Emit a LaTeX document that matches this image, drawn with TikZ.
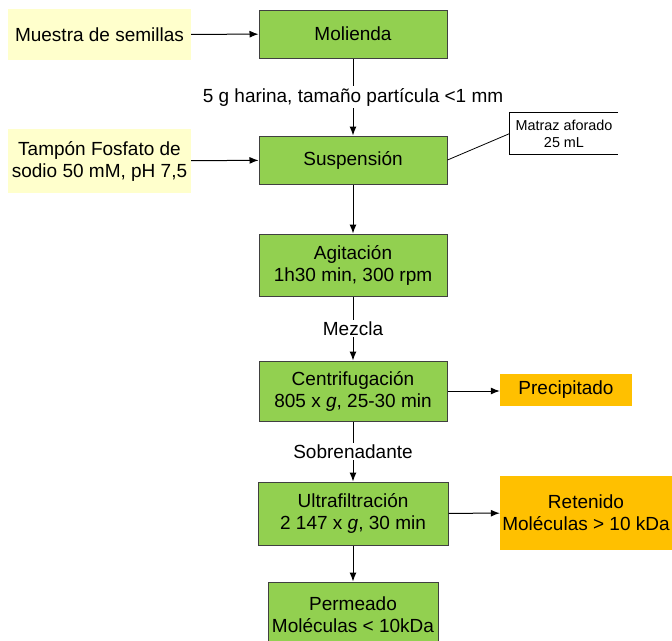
\documentclass[tikz,border=0pt]{standalone}
\usepackage{fontspec}
\setmainfont{Liberation Sans}
\usepackage{tikz}
\usetikzlibrary{positioning, calc, shapes, arrows.meta}

\definecolor{procverde}{HTML}{92D050}
\definecolor{entamarillo}{HTML}{FFFFCC}
\definecolor{salnaranja}{HTML}{FFC000}

\begin{document}
\begin{tikzpicture}[x=1pt, y=-1pt,
		font=\fontsize{19}{22}\selectfont,
		caja/.style = {inner sep=0pt, align=center},
		proceso/.style = {caja, fill=procverde, draw=black!75, line width=1pt},
		entrada/.style = {caja, fill=entamarillo},
		salida/.style = {caja, fill=salnaranja},
		flecha/.style = {-{Latex[length=9pt, width=7pt]}, line width=1pt},
		etiqueta/.style = {fill=white, inner sep=2pt}]
	\useasboundingbox (0,0) rectangle (672,640);
	% entradas
	\node[entrada, minimum width=183, minimum height=51] (muestra) at (99.5,34.5) {Muestra de semillas};
	\node[entrada, minimum width=183, minimum height=64] (tampon) at (99.5,161) {Tamp\'on Fosfato de\\sodio 50 mM, pH 7,5};
	% procesos
	\node[proceso, minimum width=188, minimum height=48] (molienda) at (353,34) {Molienda};
	\node[proceso, minimum width=188, minimum height=48] (suspension) at (353,160) {Suspensi\'on};
	\node[proceso, minimum width=188, minimum height=62] (agitacion) at (353,265) {Agitaci\'on\\1h30 min, 300 rpm};
	\node[proceso, minimum width=188, minimum height=60] (centrif) at (353,391) {Centrifugaci\'on\\805 x \textit{g}, 25-30 min};
	\node[proceso, minimum width=190, minimum height=63] (ultra) at (353,513.5) {Ultrafiltraci\'on\\2 147 x \textit{g}, 30 min};
	\node[proceso, minimum width=170, minimum height=66] (permeado) at (353,615) {Permeado\\Mol\'eculas < 10kDa};
	% salidas
	\node[salida, minimum width=132, minimum height=32] (precipitado) at (566,390) {Precipitado};
	\node[salida, minimum width=172, minimum height=74] (retenido) at (586,513) {Retenido\\Mol\'eculas > 10 kDa};
	% nota
	\node[caja, minimum width=108, minimum height=41, font=\fontsize{14.4}{17}\selectfont] (matraz) at (564,133.5) {Matraz aforado\\25 mL};
	\draw[line width=0.8pt] (matraz.north east) -- (matraz.north west) -- (matraz.south west) -- (matraz.south east);
	\draw[line width=0.8pt] (suspension.east) -- (matraz.west);

	\draw[flecha] (muestra) -- (molienda);
	\draw[flecha] (tampon) -- (suspension);
	\draw[flecha] (molienda) -- node[etiqueta] {5 g harina, tama\~no part\'icula <1 mm} (suspension);
	\draw[flecha] (suspension) -- (agitacion);
	\draw[flecha] (agitacion) -- node[etiqueta] {Mezcla} (centrif);
	\draw[flecha] (centrif.east) -- (precipitado.west |- centrif.east);
	\draw[flecha] (centrif) -- node[etiqueta] {Sobrenadante} (ultra);
	\draw[flecha] (ultra) -- (retenido);
	\draw[flecha] (ultra) -- (permeado);
\end{tikzpicture}
\end{document}
